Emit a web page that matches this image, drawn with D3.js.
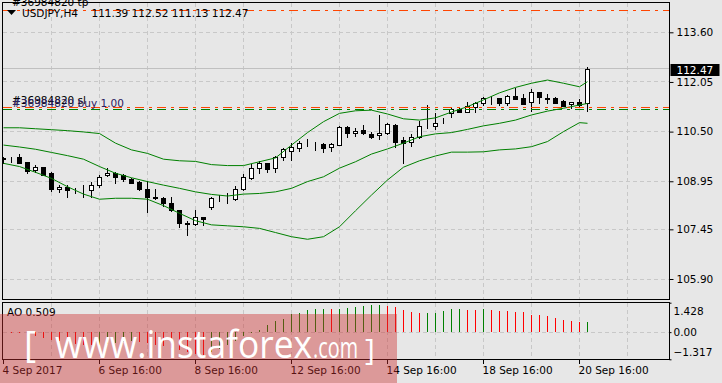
<!DOCTYPE html>
<html>
<head>
<meta charset="utf-8">
<title>USDJPY,H4</title>
<style>
  body { margin: 0; background: #e7e7e7; }
  svg { display: block; }
  text { font-family: 'DejaVu Sans', sans-serif; font-size: 10.5px; fill: #000; }
  .grid { stroke: #c8c8c8; stroke-dasharray: 4,3; shape-rendering: crispEdges; }
  .frame { fill: none; stroke: #000; shape-rendering: crispEdges; }
</style>
</head>
<body>
<div id="chart"></div>
<script src="https://cdn.jsdelivr.net/npm/d3@7"></script>
<script>
(function(d3) {
  'use strict';

  // H4 candles, oldest first (4 Sep .. 20 Sep 2017)
  var opens  = [109.67, 109.66, 109.70, 109.55, 109.30, 109.39, 109.20, 108.70, 108.76, 108.68,
                108.70, 108.68, 108.83, 109.14, 109.22, 109.15, 109.03, 108.93, 108.70, 108.47,
                108.43, 108.28, 108.05, 107.64, 107.62, 107.85, 108.16, 108.40, 108.39, 108.39,
                108.70, 109.04, 109.36, 109.51, 109.36, 109.70, 109.90, 110.00, 110.14, 110.14,
                110.11, 110.01, 110.09, 110.64, 110.45, 110.55, 110.43, 110.39, 110.45, 110.71,
                110.24, 110.17, 110.32, 110.71, 110.68, 110.80, 111.07, 111.20, 111.12, 111.28,
                111.40, 111.52, 111.54, 111.40, 111.61, 111.54, 111.42, 111.73, 111.54, 111.54,
                111.46, 111.35, 111.42, 111.39];
  var highs  = [109.70, 109.72, 109.80, 109.56, 109.46, 109.41, 109.25, 108.83, 108.83, 108.75,
                108.83, 108.94, 109.15, 109.37, 109.25, 109.18, 109.06, 108.95, 108.97, 108.70,
                108.47, 108.45, 108.06, 107.72, 108.05, 107.85, 108.47, 108.52, 108.58, 108.80,
                109.18, 109.49, 109.59, 109.52, 109.74, 109.98, 110.15, 110.22, 110.26, 110.19,
                110.14, 110.14, 110.68, 110.68, 110.60, 110.71, 110.50, 111.02, 110.78, 110.74,
                110.32, 110.43, 110.84, 111.33, 111.07, 110.92, 111.26, 111.23, 111.42, 111.43,
                111.59, 111.62, 111.55, 111.64, 111.87, 111.67, 111.83, 111.73, 111.67, 111.57,
                111.49, 111.43, 111.51, 112.52];
  var lows   = [109.51, 109.56, 109.52, 109.20, 109.23, 109.14, 108.66, 108.61, 108.47, 108.59,
                108.45, 108.45, 108.78, 109.12, 108.89, 108.97, 108.89, 108.68, 108.00, 108.41,
                108.18, 108.03, 107.53, 107.27, 107.58, 107.58, 108.08, 108.34, 108.28, 108.37,
                108.68, 109.01, 109.22, 109.25, 109.25, 109.61, 109.61, 109.90, 110.05, 109.93,
                109.87, 109.90, 110.08, 110.34, 110.36, 110.42, 110.31, 110.28, 110.43, 110.03,
                109.51, 110.06, 110.29, 110.62, 110.59, 110.78, 110.97, 111.10, 111.10, 111.12,
                111.33, 111.35, 111.33, 111.33, 111.52, 111.35, 111.14, 111.40, 111.40, 111.40,
                111.30, 111.23, 111.31, 111.13];
  var closes = [109.66, 109.64, 109.53, 109.28, 109.39, 109.16, 108.70, 108.78, 108.68, 108.67,
                108.70, 108.83, 109.09, 109.22, 109.09, 109.01, 108.91, 108.70, 108.47, 108.42,
                108.28, 108.05, 107.66, 107.63, 107.85, 107.78, 108.42, 108.39, 108.39, 108.70,
                109.07, 109.36, 109.51, 109.32, 109.70, 109.95, 110.01, 110.14, 110.13, 110.13,
                110.00, 110.10, 110.64, 110.45, 110.53, 110.45, 110.34, 110.45, 110.74, 110.19,
                110.15, 110.32, 110.69, 110.70, 110.78, 110.79, 111.20, 111.12, 111.31, 111.38,
                111.54, 111.51, 111.38, 111.61, 111.53, 111.36, 111.73, 111.57, 111.53, 111.40,
                111.31, 111.42, 111.33, 112.47];

  // Bollinger bands read every second bar
  var bandIdx = [0, 2, 4, 6, 8, 10, 12, 14, 16, 18, 20, 22, 24, 26, 28, 30, 32, 34, 36,
                 38, 40, 42, 44, 46, 48, 50, 52, 54, 56, 58, 60, 62, 64, 66, 68, 70, 72, 73];
  var bandUpper = [110.62, 110.62, 110.59, 110.56, 110.53, 110.49, 110.44, 110.14, 109.93, 109.82,
                   109.64, 109.59, 109.57, 109.47, 109.44, 109.44, 109.56, 109.68, 110.08, 110.47,
                   110.81, 111.07, 111.15, 111.17, 111.05, 110.90, 110.86, 110.93, 111.11, 111.28,
                   111.49, 111.71, 111.88, 112.01, 112.11, 112.01, 111.90, 112.06];
  var bandMiddle = [110.08, 110.02, 109.95, 109.85, 109.75, 109.64, 109.41, 109.20, 109.06, 108.94,
                    108.83, 108.73, 108.62, 108.54, 108.49, 108.55, 108.57, 108.62, 108.73, 108.94,
                    109.09, 109.36, 109.56, 109.80, 109.96, 110.14, 110.34, 110.43, 110.47, 110.57,
                    110.68, 110.76, 110.86, 111.02, 111.14, 111.23, 111.33, 111.38];
  var bandLower = [109.51, 109.41, 109.23, 109.04, 108.78, 108.55, 108.39, 108.42, 108.42, 108.39,
                   108.19, 107.95, 107.72, 107.59, 107.56, 107.53, 107.48, 107.35, 107.22, 107.14,
                   107.22, 107.53, 108.03, 108.52, 108.99, 109.39, 109.59, 109.74, 109.86, 109.86,
                   109.87, 109.93, 109.96, 110.03, 110.19, 110.50, 110.78, 110.76];

  // Awesome Oscillator, one value per bar
  var aoValues = [-0.01, -0.02, -0.03, -0.10, -0.18, -0.26, -0.36, -0.44, -0.50, -0.56,
                  -0.60, -0.63, -0.61, -0.58, -0.54, -0.50, -0.44, -0.46, -0.52, -0.60,
                  -0.68, -0.78, -0.88, -0.98, -1.06, -1.10, -0.96, -0.84, -0.64, -0.42,
                  -0.18, -0.03, 0.11, 0.33, 0.52, 0.66, 0.86, 0.91, 1.05, 1.13,
                  1.14, 1.135, 1.14, 1.155, 1.22, 1.27, 1.30, 1.305, 1.27, 1.20,
                  1.06, 0.955, 0.905, 0.91, 0.915, 1.005, 1.10, 1.11, 1.055, 1.05,
                  1.10, 1.055, 1.03, 1.005, 1.00, 0.955, 0.855, 0.85, 0.805, 0.71,
                  0.61, 0.56, 0.50, 0.509];

  var priceTicks = [113.60, 112.05, 110.50, 108.95, 107.45, 105.90];
  var aoTicks = [1.428, 0, -1.317];
  var dateIdx = [0, 12, 24, 36, 48, 60, 72];
  var dateLabels = ['4 Sep 2017', '6 Sep 16:00', '8 Sep 16:00', '12 Sep 16:00',
                    '14 Sep 16:00', '18 Sep 16:00', '20 Sep 16:00'];
  var gridIdx = [6, 12, 18, 24, 30, 36, 42, 48, 54, 60, 66, 72, 78];

  var lastPrice = 112.47;
  var tpPrice = 114.29, slPrice = 111.26, buyPrice = 111.18;

  var width = 722, height = 383;
  var left = 2.5, right = 669.5;
  var mainTop = 2.5, mainBottom = 299.5;
  var aoTop = 302.5, aoBottom = 359.5;

  var x = d3.scaleLinear().domain([0, 73]).range([3.5, 587.5]);
  var y = d3.scaleLinear().domain([105.90, 113.60]).range([279, 32.3]);
  var yAo = d3.scaleLinear().domain([-1.317, 1.428]).range([359.3, 302.7]);

  var svg = d3.select('#chart').append('svg')
    .attr('width', width)
    .attr('height', height);

  svg.append('rect').attr('width', width).attr('height', height).attr('fill', '#e7e7e7');

  var defs = svg.append('defs');
  defs.append('clipPath').attr('id', 'clipMain').append('rect')
    .attr('x', left + 0.5).attr('y', mainTop + 0.5)
    .attr('width', right - left - 1).attr('height', mainBottom - mainTop - 1);
  defs.append('clipPath').attr('id', 'clipAo').append('rect')
    .attr('x', left + 0.5).attr('y', aoTop + 0.5)
    .attr('width', right - left - 1).attr('height', aoBottom - aoTop - 1);

  function px(v) { return Math.round(v - 0.5) + 0.5; }

  // ---- main window ----
  var main = svg.append('g').attr('clip-path', 'url(#clipMain)');

  main.selectAll('.vgrid').data(gridIdx).enter().append('line')
    .attr('class', 'grid')
    .attr('x1', function(d) { return x(d); }).attr('x2', function(d) { return x(d); })
    .attr('y1', mainTop).attr('y2', mainBottom);
  main.selectAll('.hgrid').data(priceTicks).enter().append('line')
    .attr('class', 'grid')
    .attr('x1', left).attr('x2', right)
    .attr('y1', function(d) { return px(y(d)); }).attr('y2', function(d) { return px(y(d)); });

  // bid line
  main.append('line')
    .attr('x1', left).attr('x2', right)
    .attr('y1', px(y(lastPrice))).attr('y2', px(y(lastPrice)))
    .attr('stroke', '#c0c0c0').attr('shape-rendering', 'crispEdges');

  var candles = opens.map(function(o, i) {
    return {i: i, o: o, h: highs[i], l: lows[i], c: closes[i]};
  });

  var cg = main.append('g').attr('shape-rendering', 'crispEdges');
  cg.selectAll('.wick').data(candles).enter().append('line')
    .attr('x1', function(d) { return x(d.i); }).attr('x2', function(d) { return x(d.i); })
    .attr('y1', function(d) { return Math.round(y(d.h)); })
    .attr('y2', function(d) { return Math.round(y(d.l)) + 1; })
    .attr('stroke', '#000');
  cg.selectAll('.body').data(candles).enter().append('rect')
    .attr('x', function(d) { return x(d.i) - 2; })
    .attr('y', function(d) { return Math.round(y(Math.max(d.o, d.c))) + 0.5; })
    .attr('width', 4)
    .attr('height', function(d) {
      return Math.max(0, Math.round(y(Math.min(d.o, d.c))) - Math.round(y(Math.max(d.o, d.c))));
    })
    .attr('fill', function(d) { return d.c >= d.o ? '#fff' : '#000'; })
    .attr('stroke', '#000');

  function band(vals) {
    return vals.map(function(v, j) { return {i: bandIdx[j], v: v}; });
  }
  var bandLine = d3.line()
    .x(function(d) { return x(d.i); })
    .y(function(d) { return y(d.v); });
  main.selectAll('.band').data([bandUpper, bandMiddle, bandLower]).enter().append('path')
    .attr('d', function(d) { return bandLine(band(d)); })
    .attr('fill', 'none')
    .attr('stroke', '#008000')
    .attr('stroke-width', 1);

  // order lines
  var orders = [
    {p: tpPrice, color: '#ff4500'},
    {p: slPrice, color: '#ff4500'},
    {p: buyPrice, color: '#008000'}
  ];
  main.selectAll('.order').data(orders).enter().append('line')
    .attr('x1', left).attr('x2', right)
    .attr('y1', function(d) { return px(y(d.p)); }).attr('y2', function(d) { return px(y(d.p)); })
    .attr('stroke', function(d) { return d.color; })
    .attr('stroke-dasharray', '9,5,3,5')
    .attr('shape-rendering', 'crispEdges');

  svg.append('text').attr('x', 12).attr('y', y(tpPrice) - 4.5).text('#36984820 tp');
  svg.append('text').attr('x', 12).attr('y', y(slPrice) - 3).text('#36984820 sl');
  svg.append('text').attr('x', 12).attr('y', y(buyPrice) - 3)
    .style('fill', '#2c2060').text('#36984820 buy 1.00');

  // header
  svg.append('path').attr('d', 'M7,10 L16,10 L11.5,15 Z').attr('fill', '#000');
  svg.append('text').attr('x', 22).attr('y', 16.7).text('USDJPY,H4');
  svg.append('text').attr('x', 91.5).attr('y', 16.7)
    .style('white-space', 'pre').text('111.39 112.52 111.13 112.47');

  svg.append('rect').attr('class', 'frame')
    .attr('x', left).attr('y', mainTop)
    .attr('width', right - left).attr('height', mainBottom - mainTop);

  var yAxis = d3.axisRight(y)
    .tickValues(priceTicks)
    .tickSize(4)
    .tickPadding(3)
    .tickFormat(d3.format('.2f'));
  svg.append('g')
    .attr('transform', 'translate(' + right + ',0)')
    .call(yAxis)
    .call(function(g) { g.select('.domain').remove(); });

  // current price tag
  var yl = y(lastPrice) + 1.5;
  svg.append('rect')
    .attr('x', 670.5).attr('y', Math.round(yl - 6)).attr('width', 49).attr('height', 12)
    .attr('fill', '#000');
  svg.append('text').attr('x', 676.5).attr('y', yl).attr('dy', '0.35em')
    .style('fill', '#fff').text(d3.format('.2f')(lastPrice));

  // ---- AO window ----
  var ao = svg.append('g').attr('clip-path', 'url(#clipAo)');
  ao.selectAll('.vgrid').data(gridIdx).enter().append('line')
    .attr('class', 'grid')
    .attr('x1', function(d) { return x(d); }).attr('x2', function(d) { return x(d); })
    .attr('y1', aoTop).attr('y2', aoBottom);
  ao.append('line').attr('class', 'grid')
    .attr('x1', left).attr('x2', right)
    .attr('y1', px(yAo(0))).attr('y2', px(yAo(0)));

  ao.selectAll('.aobar').data(aoValues).enter().append('line')
    .attr('x1', function(d, i) { return x(i); }).attr('x2', function(d, i) { return x(i); })
    .attr('y1', Math.round(yAo(0)))
    .attr('y2', function(d) { return Math.round(yAo(d)); })
    .attr('stroke', function(d, i) { return i > 0 && d > aoValues[i - 1] ? '#008000' : '#ff0000'; })
    .attr('shape-rendering', 'crispEdges');

  svg.append('rect').attr('class', 'frame')
    .attr('x', left).attr('y', aoTop)
    .attr('width', right - left).attr('height', aoBottom - aoTop);

  svg.append('text').attr('x', 7).attr('y', 316)
    .text('AO ' + aoValues[aoValues.length - 1].toFixed(3));

  var aoAxis = d3.axisRight(yAo)
    .tickValues(aoTicks)
    .tickSize(2)
    .tickPadding(2)
    .tickFormat(function(d) { return d === 0 ? '0.00' : d3.format('.3f')(d); });
  svg.append('g')
    .attr('transform', 'translate(' + right + ',0)')
    .call(aoAxis)
    .call(function(g) {
      g.select('.domain').remove();
      g.selectAll('text').attr('y', function(d) { return d > 0 ? 8.5 : (d < 0 ? -7.6 : 0); });
    });

  // time axis
  var xAxis = d3.axisBottom(x)
    .tickValues(dateIdx)
    .tickSize(4)
    .offset(0)
    .tickFormat(function(d, i) { return dateLabels[i]; });
  svg.append('g')
    .attr('transform', 'translate(0,' + aoBottom + ')')
    .call(xAxis)
    .call(function(g) {
      g.select('.domain').remove();
      g.selectAll('line').attr('shape-rendering', 'crispEdges');
      g.selectAll('text')
        .attr('text-anchor', 'start')
        .attr('x', -1)
        .attr('y', 14.5)
        .attr('dy', null);
    });

  // watermark
  var wm = svg.append('g');
  wm.append('rect')
    .attr('x', 0).attr('y', 314).attr('width', 397).attr('height', height - 314)
    .attr('fill', 'rgba(205,45,45,0.42)');
  var wmText = wm.append('g');
  wmText.append('text').attr('x', 24).attr('y', 357)
    .style('font-size', '37px').style('fill', '#fff').style('font-family', "'Open Sans', sans-serif")
    .text('[');
  wmText.append('text').attr('x', 55).attr('y', 358)
    .attr('textLength', 257).attr('lengthAdjust', 'spacingAndGlyphs')
    .style('font-size', '39px').style('fill', '#fff').style('font-family', "'Open Sans', sans-serif")
    .text('www.instaforex');
  wmText.append('text').attr('x', 313).attr('y', 358)
    .attr('textLength', 45).attr('lengthAdjust', 'spacingAndGlyphs')
    .style('font-size', '29px').style('fill', '#fff').style('font-family', "'Open Sans', sans-serif")
    .text('.com');
  wmText.append('text').attr('x', 365).attr('y', 360)
    .style('font-size', '30px').style('fill', '#fff').style('font-family', "'Open Sans', sans-serif")
    .text(']');
})(window.d3);
</script>
</body>
</html>
